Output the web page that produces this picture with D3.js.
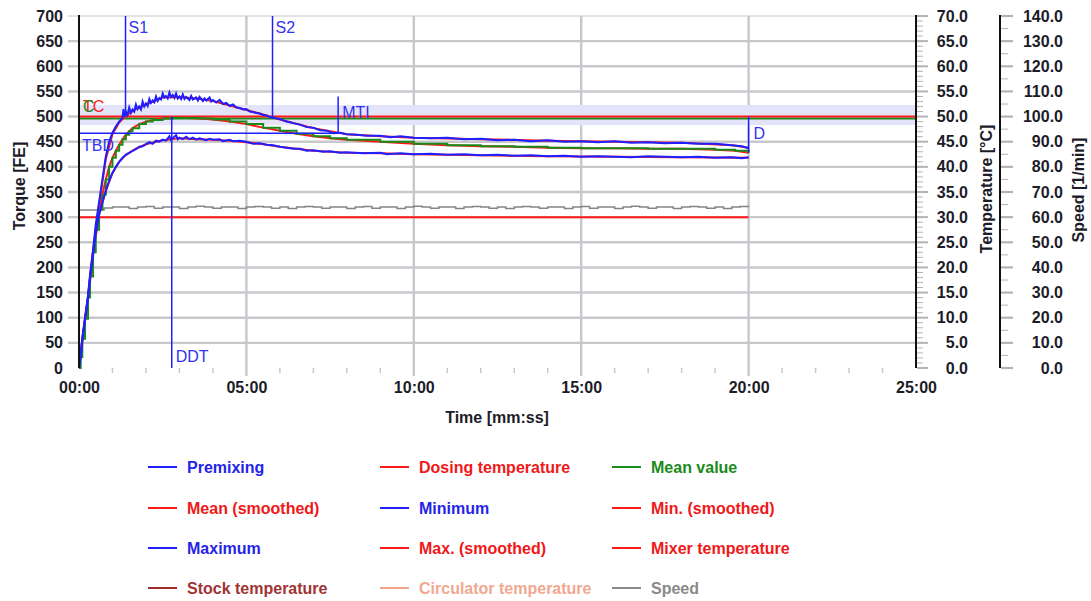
<!DOCTYPE html>
<html>
<head>
<meta charset="utf-8">
<script src="https://cdn.jsdelivr.net/npm/d3@7"></script>
<style>
  body { margin: 0; background: #fff; }
  svg { font-family: "Liberation Sans", Arial, sans-serif; }
</style>
</head>
<body>
<svg id="chart" width="1091" height="601"></svg>
<script>
// ---- data ----
// time in minutes, torque in FE
const maxRaw = [[0,0],[0.05,25],[0.1,60],[0.18,100],[0.27,145],[0.33,185],[0.42,235],[0.5,285],[0.6,330],[0.7,375],[0.8,420],[0.9,450],[1.0,468],[1.1,480],[1.2,490],[1.3,498],
  [1.33,515],[1.36,500],[1.4,510],[1.45,503],[1.5,518],[1.55,507],[1.6,514],[1.65,510],[1.7,524],[1.75,515],[1.8,520],[1.85,514],[1.9,530],[1.95,520],[2.0,526],[2.05,521],
  [2.1,535],[2.15,527],[2.2,532],[2.25,528],[2.3,540],[2.35,531],[2.4,537],[2.45,534],[2.5,546],[2.55,538],[2.6,541],[2.65,536],[2.7,548],[2.75,539],[2.8,543],[2.85,537],
  [2.9,546],[2.95,536],[3.0,540],[3.05,535],[3.1,544],[3.15,535],[3.2,539],[3.3,533],[3.35,541],[3.4,534],[3.5,538],[3.55,532],[3.6,539],[3.7,531],[3.75,536],[3.8,532],
  [3.9,538],[3.95,530],[4.0,533],[4.1,528],[4.2,533],[4.3,525],[4.4,527],[4.5,521],[4.6,524],[4.7,518],[4.8,517],[4.9,514],[5.0,515],[5.1,510],[5.2,509],[5.3,507],
  [5.4,506],[5.5,503],[5.6,502],[5.7,499],[5.8,498],[5.9,496],[6.0,495],[6.2,490],[6.4,487],[6.6,484],[6.8,479],[7.0,478],[7.2,473],[7.4,472],[7.6,467],[7.8,468],
  [8.0,465],[8.3,464],[8.6,462],[9.0,462],[9.3,459],[9.6,461],[10.0,458],[10.5,457],[11.0,458],[11.5,455],[12.0,456],[12.5,453],[13.0,454],[13.5,451],[14.0,453],
  [14.5,450],[15.0,451],[15.5,449],[16.0,451],[16.5,448],[17.0,449],[17.5,447],[18.0,448],[18.5,446],[19.0,446],[19.5,443],[19.8,441],[20.0,437]]
const maxSmooth = [[0,0],[0.1,58],[0.27,142],[0.42,232],[0.6,325],[0.8,415],[1.0,465],[1.2,488],[1.4,502],[1.7,515],[2.0,524],[2.5,538],[3.0,539],[3.5,536],[4.0,531],[4.5,522],[5.0,513],[5.5,504],[6.0,494],[7.0,477],[8.0,465],[9.0,461],[10,458],[12,455],[14,452],[16,450],[18,448],[19.5,443],[20,438]]
const minRaw = [[0,0],[0.05,22],[0.1,55],[0.18,95],[0.27,138],[0.33,178],[0.42,225],[0.5,268],[0.6,305],[0.7,330],[0.8,352],[0.9,372],[1.0,388],[1.1,400],[1.2,410],[1.3,418],
  [1.4,424],[1.5,428],[1.6,432],[1.7,435],[1.8,440],[1.9,441],[2.0,445],[2.1,449],[2.2,446],[2.3,452],[2.4,450],[2.5,454],[2.6,452],[2.7,461],[2.75,453],[2.8,457],
  [2.9,463],[2.95,455],[3.0,458],[3.1,455],[3.2,460],[3.3,455],[3.4,458],[3.5,454],[3.6,457],[3.8,453],[3.9,456],[4.0,454],[4.2,455],[4.3,451],[4.5,454],[4.6,451],
  [4.8,452],[5.0,450],[5.2,446],[5.4,447],[5.6,444],[5.8,443],[6.0,440],[6.2,438],[6.4,436],[6.6,436],[6.8,432],[7.0,433],[7.3,430],[7.5,431],[7.8,428],[8.0,429],
  [8.5,427],[9.0,428],[9.2,425],[9.6,427],[10.0,425],[10.5,426],[11.0,424],[11.5,425],[12.0,423],[12.5,424],[13.0,422],[13.5,423],[14.0,421],[14.5,422],[15.0,420],
  [15.5,421],[16.0,420],[16.5,419],[17.0,421],[17.5,420],[18.0,419],[18.5,420],[19.0,418],[19.5,419],[19.8,417],[20.0,419]]
const minSmooth = [[0,0],[0.1,55],[0.27,138],[0.42,225],[0.6,305],[0.8,352],[1.0,388],[1.2,410],[1.4,424],[1.7,436],[2.0,445],[2.5,453],[3.0,457],[3.5,455],[4.0,454],[4.5,452],[5.0,449],[5.5,445],[6.0,440],[6.5,436],[7.0,432],[8.0,428],[9.0,427],[10,425],[12,423],[14,421],[16,420],[18,419],[20,418]]
const meanValue = [[0,0],[0.05,22],[0.1,58],[0.18,98],[0.27,140],[0.33,182],[0.42,230],[0.5,275],[0.6,315],[0.7,345],[0.8,375],[0.9,400],[1.0,418],[1.1,432],[1.2,444],[1.3,455],[1.4,464],[1.5,471],[1.6,477],[1.8,485],[2.0,490],[2.2,493],[2.5,496],[2.8,497],[3.2,497],[3.6,496],[4.0,494],[4.5,490],[5.0,485],[5.5,478],[6.0,472],[6.5,466],[7.0,461],[7.5,457],[8.0,454],[9.0,450],[10.0,446],[11.0,443],[12.0,441],[13.0,440],[14.0,438],[15.0,437],[16.0,437],[17.0,436],[18.0,436],[19.0,434],[19.6,432],[20.0,428]]
// speed in 1/min, sampled every 0.25 min from 0 to 20
const speedStep = 0.25
const speed = [62.8,62.8,62.8,63.6,64,64,63.4,64,64.2,63.5,64,64,63.4,64,64.3,64,63.5,64,64,63.4,
  64,64.2,64,63.5,64,63.4,64,64.2,64,63.5,64,64,63.4,64,64.2,63.5,64,64,63.4,64,
  64.3,64,63.5,64,64,63.4,64,64.2,64,63.5,64,63.4,64,64.2,64,63.5,64,64,63.4,64,
  64.2,63.5,64,64,63.4,64,64.3,64,63.5,64,64,63.4,64,64.2,64,63.5,64,63.4,64,64.2,64]
const mixerTemp = [[0,30],[20,30]]   // °C
const target = 500, targetMean = 496, band = [483, 523]
const markers = [
  {name: 'S1', t: 1.39, from: 700, to: 500},
  {name: 'S2', t: 5.78, from: 700, to: 496},
  {name: 'MTI', t: 7.74, from: 540, to: 467},
  {name: 'DDT', t: 2.77, from: 500, to: 0},
  {name: 'D', t: 20, from: 500, to: 428}
]
const tbd = {name: 'TBD', value: 467, from: 0, to: 7.74}
const torqueTicks = d3.range(0, 701, 50)
const tempTicks = d3.range(0, 71, 5)
const speedTicks = d3.range(0, 141, 10)
const timeTicks = [0, 5, 10, 15, 20, 25]
const legendItems = [
  ['Premixing', '#1f1fff', '#2424e8'], ['Dosing temperature', '#ff1a1a', '#f01818'], ['Mean value', '#1a8a1a', '#1a8a1a'],
  ['Mean (smoothed)', '#ff1a1a', '#f01818'], ['Minimum', '#1f1fff', '#2424e8'], ['Min. (smoothed)', '#ff1a1a', '#f01818'],
  ['Maximum', '#1f1fff', '#2424e8'], ['Max. (smoothed)', '#ff1a1a', '#f01818'], ['Mixer temperature', '#ff1a1a', '#f01818'],
  ['Stock temperature', '#a02c2c', '#a03434'], ['Circulator temperature', '#f2a488', '#f0a890'], ['Speed', '#8a8a8a', '#8a8a8a']
]

const BLUE = '#1f1fff', RED = '#ff1a1a', GREEN = '#1a8a1a', GRID = '#c6c8cc', TXT = '#1c1c28'

const svg = d3.select('#chart')
const pL = 79, pR = 916, pT = 16, pB = 368

const x = d3.scaleLinear().domain([0, 25]).range([pL, pR])
const y = d3.scaleLinear().domain([0, 700]).range([pB, pT])
const yT = d3.scaleLinear().domain([0, 70]).range([pB, pT])
const yS = d3.scaleLinear().domain([0, 140]).range([pB, pT])

// grid
const grid = svg.append('g')
grid.selectAll('line.h').data(torqueTicks.filter(d => d > 0)).enter().append('line')
  .attr('x1', pL - 11).attr('x2', pR).attr('y1', d => y(d)).attr('y2', d => y(d))
  .attr('stroke', GRID).attr('stroke-width', d => d === 700 ? 1 : 2.4)
grid.selectAll('line.v').data(timeTicks.filter(d => d > 0 && d < 25)).enter().append('line')
  .attr('x1', d => x(d)).attr('x2', d => x(d)).attr('y1', pT).attr('y2', pB + 8)
  .attr('stroke', GRID).attr('stroke-width', 2.4)
grid.selectAll('line.m').data(d3.range(1, 25).filter(d => d % 5)).enter().append('line')
  .attr('x1', d => x(d)).attr('x2', d => x(d)).attr('y1', pB).attr('y2', pB + 5)
  .attr('stroke', GRID).attr('stroke-width', 1.5)

// tolerance band + target lines
svg.append('rect').attr('x', pL).attr('width', pR - pL)
  .attr('y', y(band[1])).attr('height', y(band[0]) - y(band[1]))
  .attr('fill', '#e3e3fa')
svg.append('line').attr('x1', pL).attr('x2', pR).attr('y1', y(targetMean)).attr('y2', y(targetMean))
  .attr('stroke', GREEN).attr('stroke-width', 2)
svg.append('line').attr('x1', pL).attr('x2', pR).attr('y1', y(target)).attr('y2', y(target))
  .attr('stroke', RED).attr('stroke-width', 2)

// speed and mixer temperature
const speedLine = d3.line().curve(d3.curveStepAfter).x((d, i) => x(i * speedStep)).y(d => yS(d))
svg.append('path').attr('d', speedLine(speed)).attr('fill', 'none').attr('stroke', '#858585').attr('stroke-width', 1.5)
const tempLine = d3.line().x(d => x(d[0])).y(d => yT(d[1]))
svg.append('path').attr('d', tempLine(mixerTemp)).attr('fill', 'none').attr('stroke', RED).attr('stroke-width', 2)

// torque curves: smoothed red underneath, measured curves on top
const line = d3.line().x(d => x(d[0])).y(d => y(d[1]))
const step = d3.line().curve(d3.curveStepAfter).x(d => x(d[0])).y(d => y(d[1]))
const curves = [
  [line(maxSmooth), RED], [line(minSmooth), RED], [line(meanValue), RED],
  [step(meanValue), GREEN], [line(minRaw), BLUE], [line(maxRaw), BLUE]
]
svg.selectAll('path.curve').data(curves).enter().append('path')
  .attr('d', d => d[0]).attr('fill', 'none').attr('stroke', d => d[1]).attr('stroke-width', 2)

// markers
const mk = svg.append('g').attr('stroke', BLUE).attr('stroke-width', 1.5)
mk.selectAll('line').data(markers).enter().append('line')
  .attr('x1', d => x(d.t)).attr('x2', d => x(d.t)).attr('y1', d => y(d.from)).attr('y2', d => y(d.to))
mk.append('line').attr('x1', x(tbd.from)).attr('x2', x(tbd.to)).attr('y1', y(tbd.value)).attr('y2', y(tbd.value))

const lab = svg.append('g').attr('fill', '#3232f0').attr('font-size', 16)
const labelPos = {S1: [3, 700, 17], S2: [3, 700, 17], MTI: [4, 500, 1], DDT: [4, 0, -6], D: [5, 460, 2]}
markers.forEach(m => {
  const p = labelPos[m.name]
  lab.append('text').attr('x', x(m.t) + p[0]).attr('y', y(p[1]) + p[2]).text(m.name)
})
lab.append('text').attr('x', pL + 3).attr('y', y(tbd.value) + 18).text(tbd.name)
svg.append('text').attr('x', pL + 4).attr('y', y(target) - 5).attr('font-size', 16).attr('fill', RED).text('TC')
svg.append('text').attr('x', pL + 4).attr('y', y(target) - 5).attr('font-size', 16).attr('fill', GREEN).text('C')

// axes
svg.append('line').attr('x1', pL).attr('x2', pL).attr('y1', pT - 1).attr('y2', pB)
  .attr('stroke', '#111').attr('stroke-width', 2)
svg.append('line').attr('x1', pR).attr('x2', pR).attr('y1', pT - 1).attr('y2', pB)
  .attr('stroke', '#111').attr('stroke-width', 2)
svg.append('line').attr('x1', 1000).attr('x2', 1000).attr('y1', pT - 1).attr('y2', pB)
  .attr('stroke', '#111').attr('stroke-width', 2)

const tickText = g => g.selectAll('text').attr('font-size', 16).attr('font-weight', 'bold').attr('fill', TXT)

svg.append('g').attr('transform', `translate(${pL - 16},0)`)
  .call(d3.axisLeft(y).tickValues(torqueTicks).tickSize(0).tickPadding(0))
  .call(g => g.select('.domain').remove()).call(tickText)

svg.append('g').attr('transform', `translate(0,${pB + 14})`)
  .call(d3.axisBottom(x).tickValues(timeTicks).tickSize(0).tickPadding(0)
    .tickFormat(d => String(d).padStart(2, '0') + ':00'))
  .call(g => g.select('.domain').remove()).call(tickText)

// temperature axis ticks
const tg = svg.append('g')
tg.selectAll('line').data(d3.range(0, 71, 1)).enter().append('line')
  .attr('x1', pR + 1).attr('x2', d => pR + (d % 5 ? 7 : 12))
  .attr('y1', d => yT(d)).attr('y2', d => yT(d))
  .attr('stroke', '#b4b4b8').attr('stroke-width', d => d % 5 ? 1 : 2)
svg.append('g').attr('transform', `translate(${968},0)`)
  .call(d3.axisLeft(yT).tickValues(tempTicks).tickSize(0).tickPadding(0).tickFormat(d3.format('.1f')))
  .call(g => g.select('.domain').remove()).call(tickText)

// speed axis ticks
const sg = svg.append('g')
sg.selectAll('line').data(d3.range(0, 141, 5)).enter().append('line')
  .attr('x1', 1001).attr('x2', d => d % 10 ? 1008 : 1013)
  .attr('y1', d => yS(d)).attr('y2', d => yS(d))
  .attr('stroke', '#b4b4b8').attr('stroke-width', d => d % 10 ? 1 : 2.2)
svg.append('g').attr('transform', `translate(${1063},0)`)
  .call(d3.axisLeft(yS).tickValues(speedTicks).tickSize(0).tickPadding(0).tickFormat(d3.format('.1f')))
  .call(g => g.select('.domain').remove()).call(tickText)

// axis titles
const title = (tx, ty, rot, s) => svg.append('text')
  .attr('transform', `translate(${tx},${ty}) rotate(${rot})`)
  .attr('text-anchor', 'middle').attr('dy', '0.35em')
  .attr('font-size', 16).attr('font-weight', 'bold').attr('fill', TXT).text(s)
title(19, 186, -90, 'Torque [FE]')
title(986, 189, -90, 'Temperature [°C]')
title(1078, 190, -90, 'Speed [1/min]')
title(497, 417, 0, 'Time [mm:ss]')

// legend
const cols = [148, 380, 612], rows = [467, 508, 548, 588]
const lg = svg.append('g').selectAll('g').data(legendItems).enter().append('g')
  .attr('transform', (d, i) => `translate(${cols[i % 3]},${rows[Math.floor(i / 3)]})`)
lg.append('line').attr('x1', 0).attr('x2', 29).attr('stroke', d => d[1]).attr('stroke-width', 2)
lg.append('text').attr('x', 39).attr('dy', '0.35em').attr('font-size', 16).attr('font-weight', 'bold')
  .attr('fill', d => d[2]).text(d => d[0])
</script>
</body>
</html>
